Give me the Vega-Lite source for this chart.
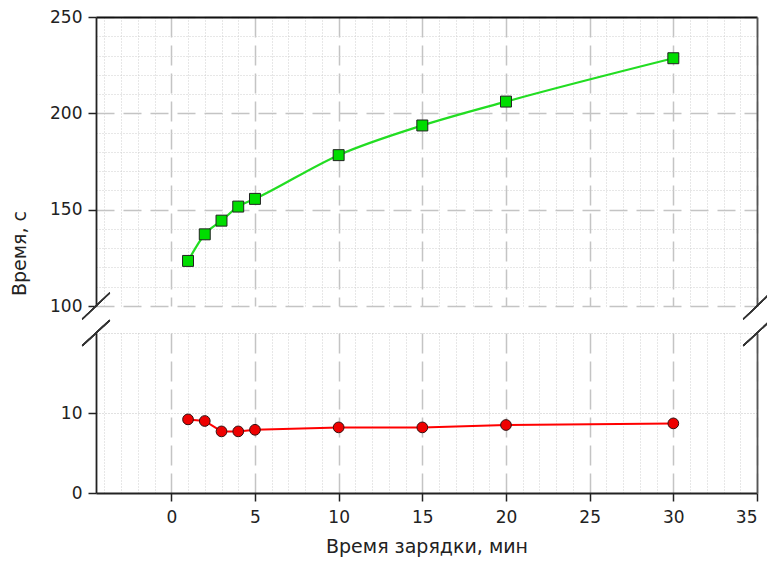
{
  "$schema": "https://vega.github.io/schema/vega-lite/v6.json",
  "padding": {"left": 10, "top": 8, "right": 4, "bottom": 10},
  "background": "white",
  "spacing": 27,
  "bounds": "flush",
  "datasets": {
    "green": [
      {"t": 1, "time": 123.4},
      {"t": 2, "time": 137.2},
      {"t": 3, "time": 144.3},
      {"t": 4, "time": 151.6},
      {"t": 5, "time": 155.6},
      {"t": 10, "time": 178.3},
      {"t": 15, "time": 193.7},
      {"t": 20, "time": 206.1},
      {"t": 30, "time": 228.6}
    ],
    "red": [
      {"t": 1, "time": 9.2},
      {"t": 2, "time": 9.0},
      {"t": 3, "time": 7.7},
      {"t": 4, "time": 7.7},
      {"t": 5, "time": 7.9},
      {"t": 10, "time": 8.2},
      {"t": 15, "time": 8.2},
      {"t": 20, "time": 8.5},
      {"t": 30, "time": 8.7}
    ]
  },
  "config": {
    "view": {"stroke": null},
    "font": "DejaVu Sans",
    "axis": {
      "labelFont": "DejaVu Sans",
      "titleFont": "DejaVu Sans",
      "labelFontSize": 17,
      "titleFontSize": 19,
      "titleFontWeight": "normal",
      "labelColor": "#222",
      "titleColor": "#222",
      "tickColor": "#222",
      "tickSize": 8,
      "tickWidth": 1.5,
      "domainWidth": 1.8,
      "domainColor": "#222"
    }
  },
  "vconcat": [
    {
      "width": 661,
      "height": 289,
      "data": {"name": "green"},
      "resolve": {"axis": {"x": "independent", "y": "independent"}},
      "layer": [
        {
          "mark": {"type": "point", "opacity": 0},
          "encoding": {
            "x": {"field": "t", "type": "quantitative",
              "scale": {"domain": [-4.5, 35], "nice": false, "zero": false},
              "axis": {"orient": "top", "values": [-4,-3,-2,-1,1,2,3,4,6,7,8,9,11,12,13,14,16,17,18,19,21,22,23,24,26,27,28,29,31,32,33,34],
                "grid": true, "gridDash": [1, 2], "gridColor": "#cfcfcf", "gridWidth": 1,
                "labels": false, "ticks": false, "domain": true, "domainColor": "#111", "title": null}},
            "y": {"field": "time", "type": "quantitative",
              "scale": {"domain": [100, 250], "nice": false, "zero": false},
              "axis": {"orient": "right", "values": [110,120,130,140,160,170,180,190,210,220,230,240],
                "grid": true, "gridDash": [1, 2], "gridColor": "#cfcfcf", "gridWidth": 1,
                "labels": false, "ticks": false, "domain": true, "domainColor": "#555", "title": null}}
          }
        },
        {
          "mark": {"type": "point", "opacity": 0},
          "encoding": {
            "x": {"field": "t", "type": "quantitative",
              "axis": {"orient": "bottom", "values": [0,5,10,15,20,25,30,35],
                "grid": true, "gridDash": [20, 8], "gridColor": "#c4c4c4", "gridWidth": 1.5,
                "labels": false, "ticks": false, "domain": false, "title": null}},
            "y": {"field": "time", "type": "quantitative",
              "axis": {"orient": "left", "values": [100,150,200,250],
                "grid": true, "gridDash": [18, 9], "gridColor": "#c4c4c4", "gridWidth": 1.5,
                "labelPadding": 6, "title": "Время, с", "titlePadding": 20, "titleY": 236}}
          }
        },
        {
          "mark": {"type": "line", "color": "#22dd22", "strokeWidth": 2.2, "interpolate": "monotone"},
          "encoding": {
            "x": {"field": "t", "type": "quantitative", "axis": null},
            "y": {"field": "time", "type": "quantitative", "axis": null}
          }
        },
        {
          "mark": {"type": "point", "shape": "square", "filled": true, "size": 120, "color": "#00dd00", "stroke": "#222", "strokeWidth": 1, "opacity": 1},
          "encoding": {
            "x": {"field": "t", "type": "quantitative", "axis": null},
            "y": {"field": "time", "type": "quantitative", "axis": null}
          }
        },
        {
          "mark": {"type": "rule", "color": "#333", "strokeWidth": 1.2, "clip": false},
          "encoding": {
            "x": {"datum": -5.32, "type": "quantitative", "axis": null},
            "x2": {"datum": -3.68},
            "y": {"datum": 93.2, "type": "quantitative", "axis": null},
            "y2": {"datum": 106.8}
          }
        },
        {
          "mark": {"type": "rule", "color": "#333", "strokeWidth": 1.2, "clip": false},
          "encoding": {
            "x": {"datum": 34.18, "type": "quantitative", "axis": null},
            "x2": {"datum": 35.82},
            "y": {"datum": 93.2, "type": "quantitative", "axis": null},
            "y2": {"datum": 106.8}
          }
        }
      ]
    },
    {
      "width": 661,
      "height": 160,
      "data": {"name": "red"},
      "resolve": {"axis": {"x": "independent", "y": "independent"}},
      "layer": [
        {
          "mark": {"type": "point", "opacity": 0},
          "encoding": {
            "x": {"field": "t", "type": "quantitative",
              "scale": {"domain": [-4.5, 35], "nice": false, "zero": false},
              "axis": {"orient": "top", "values": [-4,-3,-2,-1,1,2,3,4,6,7,8,9,11,12,13,14,16,17,18,19,21,22,23,24,26,27,28,29,31,32,33,34],
                "grid": true, "gridDash": [1, 2], "gridColor": "#cfcfcf", "gridWidth": 1,
                "labels": false, "ticks": false, "domain": false, "title": null}},
            "y": {"field": "time", "type": "quantitative",
              "scale": {"domain": [0, 20], "nice": false, "zero": false},
              "axis": {"orient": "right", "values": [10, 20],
                "grid": true, "gridDash": [1, 2], "gridColor": "#c4c4c4", "gridWidth": 1.2,
                "labels": false, "ticks": false, "domain": true, "domainColor": "#555", "title": null}}
          }
        },
        {
          "mark": {"type": "point", "opacity": 0},
          "encoding": {
            "x": {"field": "t", "type": "quantitative",
              "axis": {"orient": "bottom", "values": [0,5,10,15,20,25,30,35],
                "grid": true, "gridDash": [20, 8], "gridColor": "#c4c4c4", "gridWidth": 1.5,
                "labelPadding": 8, "title": "Время зарядки, мин", "titlePadding": 12}},
            "y": {"field": "time", "type": "quantitative",
              "axis": {"orient": "left", "values": [0, 10], "grid": false,
                "labelPadding": 6, "title": null}}
          }
        },
        {
          "mark": {"type": "line", "color": "#ff0000", "strokeWidth": 2},
          "encoding": {
            "x": {"field": "t", "type": "quantitative", "axis": null},
            "y": {"field": "time", "type": "quantitative", "axis": null}
          }
        },
        {
          "mark": {"type": "point", "shape": "circle", "filled": true, "size": 115, "color": "#ee0000", "stroke": "#331111", "strokeWidth": 1, "opacity": 1},
          "encoding": {
            "x": {"field": "t", "type": "quantitative", "axis": null},
            "y": {"field": "time", "type": "quantitative", "axis": null}
          }
        },
        {
          "mark": {"type": "rule", "color": "#333", "strokeWidth": 1.2, "clip": false},
          "encoding": {
            "x": {"datum": -5.32, "type": "quantitative", "axis": null},
            "x2": {"datum": -3.68},
            "y": {"datum": 18.4, "type": "quantitative", "axis": null},
            "y2": {"datum": 21.6}
          }
        },
        {
          "mark": {"type": "rule", "color": "#333", "strokeWidth": 1.2, "clip": false},
          "encoding": {
            "x": {"datum": 34.18, "type": "quantitative", "axis": null},
            "x2": {"datum": 35.82},
            "y": {"datum": 18.4, "type": "quantitative", "axis": null},
            "y2": {"datum": 21.6}
          }
        }
      ]
    }
  ]
}
